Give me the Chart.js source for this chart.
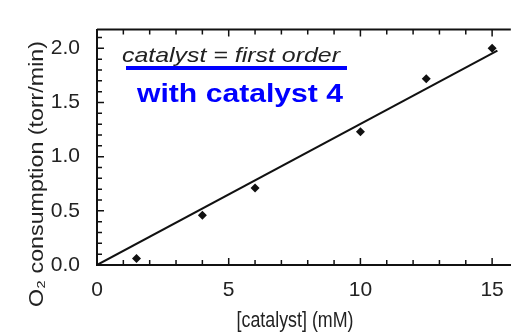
<!DOCTYPE html>
<html>
<head>
<meta charset="utf-8">
<script src="https://cdn.jsdelivr.net/npm/chart.js@4"></script>
<style>
  html, body { margin: 0; padding: 0; background: #fff; }
  canvas { display: block; }
</style>
</head>
<body>
<canvas id="chart" width="517" height="335"></canvas>
<script>
// data
const concentrations = [1.5, 4, 6, 10, 12.5, 15];
const rates = [0.06, 0.46, 0.71, 1.23, 1.72, 2.0];
const fitX = [0, 15.2];
const fitY = [0, 1.98];
const xTickValues = [0, 5, 10, 15];
const yTickValues = [0, 0.5, 1.0, 1.5, 2.0];

const TEXT = '#222';
const FONT = '"Liberation Sans", Arial, Helvetica, sans-serif';

// draw text squeezed/stretched to a given length (the source image is not square-scaled)
function drawFit(ctx, text, x, y, font, width, color, align, rotate, sy) {
    ctx.save();
    ctx.font = font;
    ctx.fillStyle = color;
    ctx.textBaseline = 'alphabetic';
    const w = ctx.measureText(text).width;
    ctx.translate(x, y);
    if (rotate) ctx.rotate(rotate);
    ctx.scale(width / w, sy || 1);
    ctx.textAlign = align || 'left';
    ctx.fillText(text, 0, 0);
    ctx.restore();
}

const framePlugin = {
    id: 'frame',
    afterDraw(chart) {
        const ctx = chart.ctx;
        const area = chart.chartArea;
        const xs = chart.scales.x, ys = chart.scales.y;
        ctx.save();
        ctx.strokeStyle = '#111';
        ctx.lineWidth = 2;
        ctx.beginPath();
        ctx.moveTo(area.left, area.top);
        ctx.lineTo(area.right, area.top);
        ctx.stroke();
        // inward ticks
        ctx.lineWidth = 1.5;
        ctx.beginPath();
        for (let i = 0; i <= 15; i++) {
            const px = xs.getPixelForValue(i);
            const len = i % 5 === 0 ? 7 : 5;
            ctx.moveTo(px, area.bottom);
            ctx.lineTo(px, area.bottom - len);
            ctx.moveTo(px, area.top);
            ctx.lineTo(px, area.top + len);
        }
        for (let i = 0; i <= 21; i++) {
            const py = ys.getPixelForValue(i / 10);
            const len = i % 5 === 0 ? 7 : 5;
            ctx.moveTo(area.left, py);
            ctx.lineTo(area.left + len, py);
        }
        ctx.stroke();
        ctx.restore();

        // axis titles
        drawFit(ctx, '[catalyst] (mM)', 295, 327, '19px ' + FONT, 117, TEXT, 'center', 0, 1.2);
        drawFit(ctx, 'O\u2082 consumption (torr/min)', 43, 174, '20px ' + FONT, 266, TEXT, 'center', -Math.PI / 2);

        // annotation
        drawFit(ctx, 'catalyst = first order', 122, 62, 'italic 21px ' + FONT, 218, TEXT, 'left');
        ctx.fillStyle = '#0000ff';
        ctx.fillRect(126, 66, 221, 4);
        drawFit(ctx, 'with catalyst 4', 137, 102, 'bold 26px ' + FONT, 206, '#0000ff', 'left');
    }
};

new Chart(document.getElementById('chart'), {
    type: 'scatter',
    data: {
        datasets: [
            {
                label: 'data',
                data: concentrations.map((c, i) => ({ x: c, y: rates[i] })),
                pointStyle: 'rectRot',
                pointRadius: 4.5,
                backgroundColor: '#111',
                borderColor: '#111',
                borderWidth: 0
            },
            {
                label: 'fit',
                data: fitX.map((c, i) => ({ x: c, y: fitY[i] })),
                showLine: true,
                pointRadius: 0,
                borderColor: '#111',
                borderWidth: 2
            }
        ]
    },
    options: {
        responsive: false,
        animation: false,
        layout: { padding: { top: 14, right: 0, left: 0, bottom: 0 } },
        plugins: { legend: { display: false }, tooltip: { enabled: false } },
        scales: {
            x: {
                type: 'linear',
                min: 0,
                max: 15.71,
                grid: { display: false, drawTicks: false },
                border: { display: true, color: '#111', width: 2 },
                afterBuildTicks: s => { s.ticks = xTickValues.map(v => ({ value: v })); },
                ticks: {
                    color: TEXT,
                    font: { family: FONT, size: 21 },
                    padding: 13,
                    maxRotation: 0,
                    callback: v => String(v)
                },
                afterFit: s => { s.height = 70; }
            },
            y: {
                min: 0,
                max: 2.173,
                grid: { display: false, drawTicks: false },
                border: { display: true, color: '#111', width: 2 },
                afterBuildTicks: s => { s.ticks = yTickValues.map(v => ({ value: v })); },
                ticks: {
                    color: TEXT,
                    font: { family: FONT, size: 21 },
                    padding: 17,
                    callback: v => Number(v).toFixed(1)
                },
                afterFit: s => { s.width = 97; }
            }
        }
    },
    plugins: [framePlugin]
});
</script>
</body>
</html>
